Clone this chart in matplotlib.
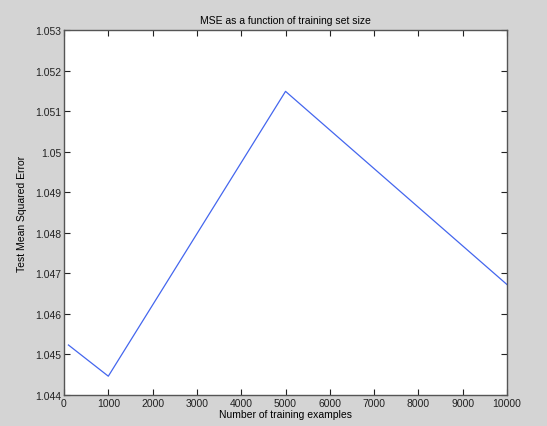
import matplotlib
matplotlib.use('Agg')
import matplotlib.pyplot as plt

# training set sizes and test MSE
train_sizes = [100, 1000, 5000, 10000]
mse = [1.04523, 1.04446, 1.05149, 1.04672]

xticks = [0, 1000, 2000, 3000, 4000, 5000, 6000, 7000, 8000, 9000, 10000]
yticks = [1.044, 1.045, 1.046, 1.047, 1.048, 1.049, 1.05, 1.051, 1.052, 1.053]
ytick_labels = ['1.044', '1.045', '1.046', '1.047', '1.048', '1.049', '1.05', '1.051', '1.052', '1.053']

plt.rcParams['font.family'] = ['Liberation Sans', 'DejaVu Sans']
plt.rcParams['font.size'] = 7.5

fig = plt.figure(figsize=(5.47, 4.27), dpi=100, facecolor='#d4d4d4')
ax = fig.add_axes([0.117, 0.073, 0.81, 0.854])
ax.plot(train_sizes, mse, color='#4466ee', linewidth=0.9)

ax.set_xlim(0, 10000)
ax.set_ylim(1.044, 1.053)
ax.set_xticks(xticks)
ax.set_yticks(yticks)
ax.set_yticklabels(ytick_labels)
ax.tick_params(direction='in', top=True, right=True, length=4, width=0.8, pad=2, colors='#222222')
for s in ax.spines.values():
    s.set_linewidth(1.0)
    s.set_color('#555555')

ax.set_title('MSE as a function of training set size', fontsize=7.5, pad=5)
ax.set_xlabel('Number of training examples', labelpad=1)
ax.set_ylabel('Test Mean Squared Error', labelpad=6)

plt.savefig('out.png', dpi=100, facecolor=fig.get_facecolor())
